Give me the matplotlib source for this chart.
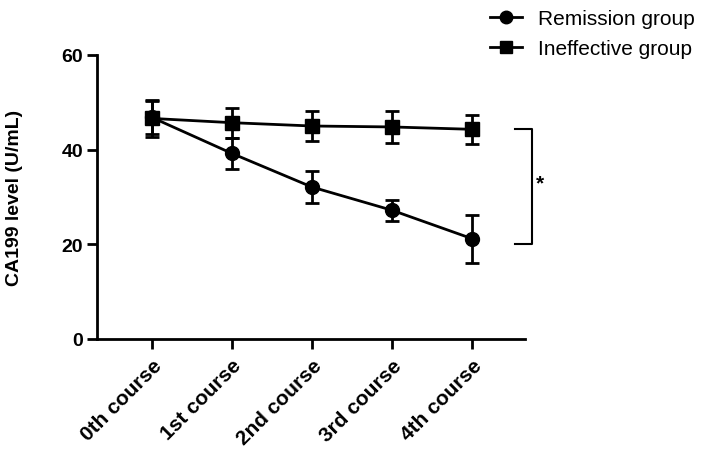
import matplotlib
matplotlib.use("Agg")
import matplotlib.pyplot as plt
from matplotlib.lines import Line2D

categories = ["0th course", "1st course", "2nd course", "3rd course", "4th course"]
remission = [46.8, 39.2, 32.1, 27.2, 21.2]
remission_err = [3.5, 3.3, 3.3, 2.2, 5.1]
ineffective = [46.6, 45.7, 45.0, 44.8, 44.3]
ineffective_err = [3.9, 3.2, 3.2, 3.3, 3.1]
yticks = [0, 20, 40, 60]

plt.rcParams['font.family'] = ['Liberation Sans', 'DejaVu Sans']

fig = plt.figure(figsize=(7.09, 4.52), dpi=100)
ax = fig.add_axes([97/709, 1-340/452, (525-97)/709, (340-56)/452])

x = list(range(len(categories)))
ax.errorbar(x, ineffective, yerr=ineffective_err, color='black', marker='s', markersize=9.5,
            linewidth=2, capsize=5, capthick=2, elinewidth=2, zorder=3)
ax.errorbar(x, remission, yerr=remission_err, color='black', marker='o', markersize=10,
            linewidth=2, capsize=5, capthick=2, elinewidth=2, zorder=4)

ax.set_ylim(0, 60)
ax.set_xlim(-55/80, 373/80)
ax.set_yticks(yticks)
ax.set_xticks(x)
ax.set_xticklabels(categories, rotation=45, ha='right', rotation_mode='anchor', fontweight='bold', fontsize=15)
for lbl in ax.get_yticklabels():
    lbl.set_fontweight('bold')
    lbl.set_fontsize(14)
ax.set_ylabel('CA199 level (U/mL)', fontweight='bold', fontsize=14, labelpad=28)

for s in ['top', 'right']:
    ax.spines[s].set_visible(False)
for s in ['left', 'bottom']:
    ax.spines[s].set_linewidth(2)
ax.tick_params(axis='both', width=2, length=7, pad=3)
ax.tick_params(axis='x', pad=5)

# significance bracket
xb0, xb1 = 4.54, 4.75
yb0, yb1 = ineffective[-1], remission[-1] - 1.2
ax.plot([xb0, xb1, xb1, xb0], [yb0, yb0, yb1, yb1], color='black', linewidth=1.5, clip_on=False)
ax.text(xb1 + 0.05, (yb0 + yb1) / 2 + 0.8, '*', fontsize=15, fontweight='bold', va='center', ha='left')

handles = [Line2D([], [], color='black', marker='o', markersize=9, linewidth=2),
           Line2D([], [], color='black', marker='s', markersize=8.5, linewidth=2)]
labels = ['Remission group', 'Ineffective group']
fig.legend(handles, labels, loc='upper left', bbox_to_anchor=(480/709, 1.0), frameon=False,
           fontsize=15, handlelength=1.5, labelspacing=0.5, handletextpad=0.8, borderaxespad=0.1)

fig.savefig('out.png', dpi=100)
